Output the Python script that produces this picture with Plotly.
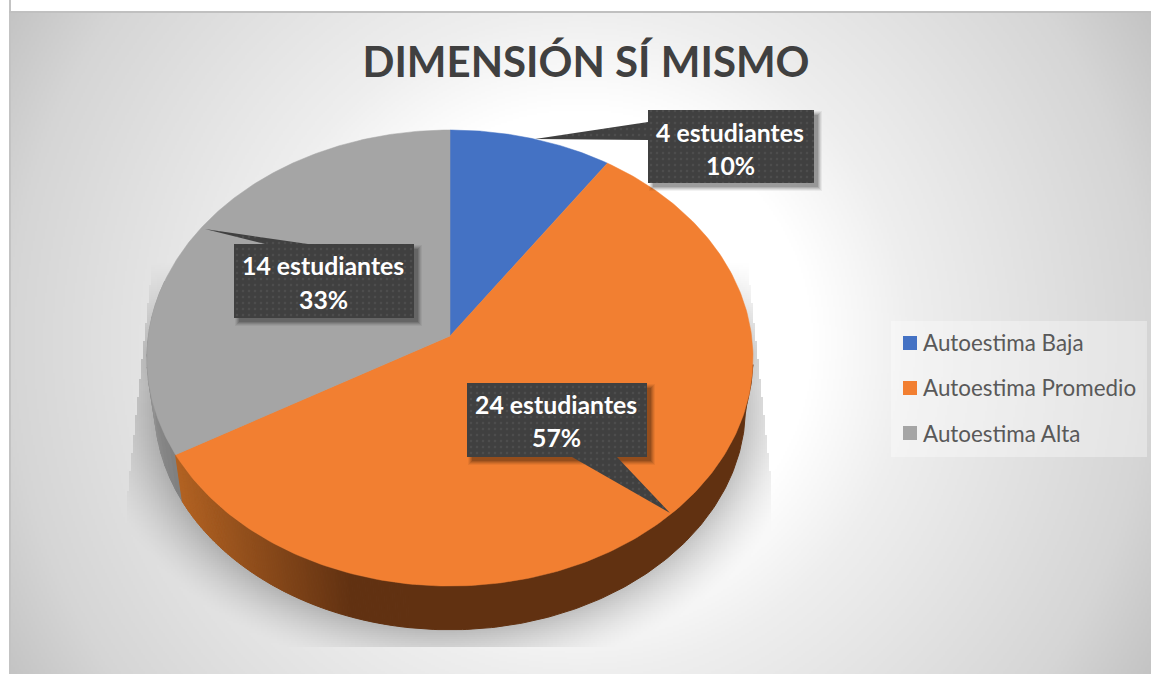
import numpy as np
import plotly.graph_objects as go

TITLE = "DIMENSIÓN SÍ MISMO"
categories = ["Autoestima Baja", "Autoestima Promedio", "Autoestima Alta"]
students = [4, 24, 14]
colors = ["#4472C4", "#F27F31", "#A5A5A5"]

W, H = 1151, 674
APEX_X, APEX_Y = 450.0, 336.0
A, C, K = 225.9, 301.6, 0.0965     # tilted-disc projection
SCALE_B, DROP = 0.975, 50.0        # lower rim of the disc


def rim(f):
    f = np.asarray(f, dtype=float)
    t = 2 * np.pi * f
    X, Y = np.sin(t), np.cos(t)
    w = 1 + K * Y
    return C * X / w, A * Y / w


def top_pts(f):
    sx, u = rim(f)
    return APEX_X + sx, APEX_Y - u


def low_pts(f):
    sx, u = rim(f)
    return APEX_X + SCALE_B * sx, APEX_Y - SCALE_B * u + DROP


total = sum(students)
edges = np.concatenate([[0], np.cumsum(students)]) / total
fig = go.Figure()

# ---------- background gradient with the disc's soft shadow
step = 2
gx = np.arange(0, W + step, step, dtype=float)
gy = np.arange(0, H + step, step, dtype=float)
XX, YY = np.meshgrid(gx, gy)
r = np.hypot(XX - 580, YY - 343)
bg = np.interp(r, [0, 230, 330, 570, 660, 700], [255, 255, 238, 213, 195, 190])

d_low = (np.hypot((XX - APEX_X) / (303 * SCALE_B), (YY - 407.5) / 222.0) - 1) * 260
d_top = (np.hypot((XX - APEX_X) / 303.0, (YY - 358.0) / 228.0) - 1) * 260
dist = np.clip(np.minimum(d_low, d_top + 6), 0, None)
fade = np.clip(1 - dist / 58.0, 0, 1) ** 1.5
left = np.clip(150 - (YY - 285) * 23 / 215, 127, 150)
right = np.clip(750 + (YY - 285) * 22 / 205, 750, 772)
mask = (YY < 647) & (XX > left) & (XX < right) & (YY > 262)
vert = np.clip((YY - 262) / 90.0, 0, 1)
shade = 1 - 0.23 * fade * vert * mask
z = bg * shade
z[:, gx < 9] = 255
z[gy < 12, :] = 255
z[:, gx == 10] = np.minimum(z[:, gx == 10], 195)
z[gy == 12, :] = np.where(gx[None, :] >= 9, 192, 255)
fig.add_trace(go.Heatmap(x=gx, y=gy, z=np.round(z).astype(int), zmin=0, zmax=255,
                         colorscale=[[0, "#000000"], [1, "#ffffff"]],
                         showscale=False, hoverinfo="skip"))


# ---------- side wall of the disc
def strip(f0, f1, color):
    fs = np.linspace(f0, f1, max(4, int(abs(f1 - f0) * 500)))
    xt, yt = top_pts(fs)
    xb, yb = low_pts(fs)
    px = np.concatenate([xt, xb[::-1], xt[:1]])
    py = np.concatenate([yt, yb[::-1], yt[:1]])
    fig.add_trace(go.Scatter(x=px, y=py, mode="lines", fill="toself", fillcolor=color,
                             line=dict(color=color, width=1), hoverinfo="skip",
                             showlegend=False))


def mix(c0, c1, t):
    v = [round(a + (b - a) * t) for a, b in zip(c0, c1)]
    return f"rgb({v[0]},{v[1]},{v[2]})"


gray_end = 0.79
ns = 14
gs = np.linspace(edges[2], gray_end, ns + 1)
for i in range(ns):
    strip(gs[i], gs[i + 1], mix((128, 128, 128), (165, 165, 165), i / ns))

# orange wall: lit at its left end, dark from the front onwards
wall_start = 0.27
dark_f = 0.52
strip(wall_start, dark_f, "rgb(97,49,17)")
ns = 110
os_ = np.linspace(edges[2], dark_f, ns + 1)
for i in range(ns):
    xm = top_pts((os_[i] + os_[i + 1]) / 2)[0]
    t = np.clip((xm - 176) / 175.0, 0, 1)
    strip(os_[i], os_[i + 1], mix((178, 98, 34), (97, 49, 17), t))

# ---------- top face
for i, name in enumerate(categories):
    fs = np.linspace(edges[i], edges[i + 1], 240)
    xr, yr = top_pts(fs)
    fig.add_trace(go.Scatter(x=np.r_[APEX_X, xr, APEX_X], y=np.r_[APEX_Y, yr, APEX_Y],
                             mode="lines", fill="toself", fillcolor=colors[i],
                             line=dict(color=colors[i], width=0.5), hoverinfo="skip",
                             showlegend=False))

# ---------- callouts
boxes = [(648, 814, 110, 183), (467, 647, 383, 457), (234, 414, 244, 318)]
tails = [[(648, 122), (535, 139), (648, 140)],
         [(617, 457), (670, 513), (572, 457)],
         [(308, 244), (205, 229), (265, 244)]]
text_y = [(132, 165), (404, 437), (265, 299)]

for (x0, x1, y0, y1), tail in zip(boxes, tails):
    for grow, alpha in [(4, 0.05), (3, 0.07), (2, 0.09), (1, 0.11), (0, 0.13)]:
        fig.add_trace(go.Scatter(
            x=[x0 + 5 - grow, x1 + 4 + grow, x1 + 4 + grow, x0 + 5 - grow, x0 + 5 - grow],
            y=[y0 + 5 - grow, y0 + 5 - grow, y1 + 4 + grow, y1 + 4 + grow, y0 + 5 - grow],
            mode="lines", fill="toself", fillcolor=f"rgba(0,0,0,{alpha})",
            line=dict(width=0), hoverinfo="skip", showlegend=False))

for (x0, x1, y0, y1), tail in zip(boxes, tails):
    xs = [x0, x1, x1, x0, x0]
    ys = [y0, y0, y1, y1, y0]
    tx = [p[0] for p in tail] + [tail[0][0]]
    ty = [p[1] for p in tail] + [tail[0][1]]
    for px, py in ((tx, ty), (xs, ys)):
        fig.add_trace(go.Scatter(
            x=px, y=py, mode="lines", fill="toself",
            fillpattern=dict(shape=".", bgcolor="#404040", fgcolor="#4D4D4D",
                             size=6, solidity=0.14, fillmode="replace"),
            line=dict(width=0), hoverinfo="skip", showlegend=False))

annotations = []
for n, (x0, x1, y0, y1), (ya, yb) in zip(students, boxes, text_y):
    cx = (x0 + x1) / 2 - 1
    for txt, yy in ((f"{n} estudiantes", ya), (f"{round(n / total * 100)}%", yb)):
        annotations.append(dict(x=cx, y=yy, xref="x", yref="y", text=f"<b>{txt}</b>",
                                showarrow=False, xanchor="center", yanchor="middle",
                                font=dict(family="Lato", size=24.8, color="#FFFFFF")))

# ---------- legend
swatch_y = [343, 388, 433]
shapes = [dict(type="rect", xref="x", yref="y", x0=891, x1=1147, y0=321, y1=457,
               fillcolor="rgba(255,255,255,0.35)", line=dict(width=0), layer="above")]
for i, name in enumerate(categories):
    fig.add_trace(go.Scatter(x=[None], y=[None], mode="markers", name=name,
                             legendgroup=name,
                             marker=dict(symbol="square", size=14, color="rgba(0,0,0,0)")))
    shapes.append(dict(type="rect", xref="x", yref="y", x0=903, x1=917,
                       y0=swatch_y[i] - 7, y1=swatch_y[i] + 7,
                       fillcolor=colors[i], line=dict(width=0), layer="above"))

fig.update_layout(
    width=W, height=H, autosize=False,
    margin=dict(l=0, r=0, t=0, b=0),
    paper_bgcolor="#FFFFFF", plot_bgcolor="#FFFFFF",
    title=dict(text=f"<b>{TITLE}</b>", x=586 / W, xanchor="center", xref="paper",
               y=1 - 62 / H, yanchor="middle", yref="paper",
               font=dict(family="Lato", size=42, color="#404040")),
    xaxis=dict(range=[0, W], visible=False, fixedrange=True),
    yaxis=dict(range=[H, 0], visible=False, fixedrange=True),
    annotations=annotations,
    shapes=shapes,
    legend=dict(x=883 / W, y=1 - 321.5 / H, xanchor="left", yanchor="top",
                bgcolor="rgba(0,0,0,0)", borderwidth=0, tracegroupgap=13,
                font=dict(family="Lato", size=22.4, color="#595959"),
                itemclick=False, itemdoubleclick=False),
    showlegend=True,
)

fig.write_html("out.html", config=dict(displayModeBar=False),
               post_script="document.body.style.margin='0';document.body.style.overflow='hidden';")
